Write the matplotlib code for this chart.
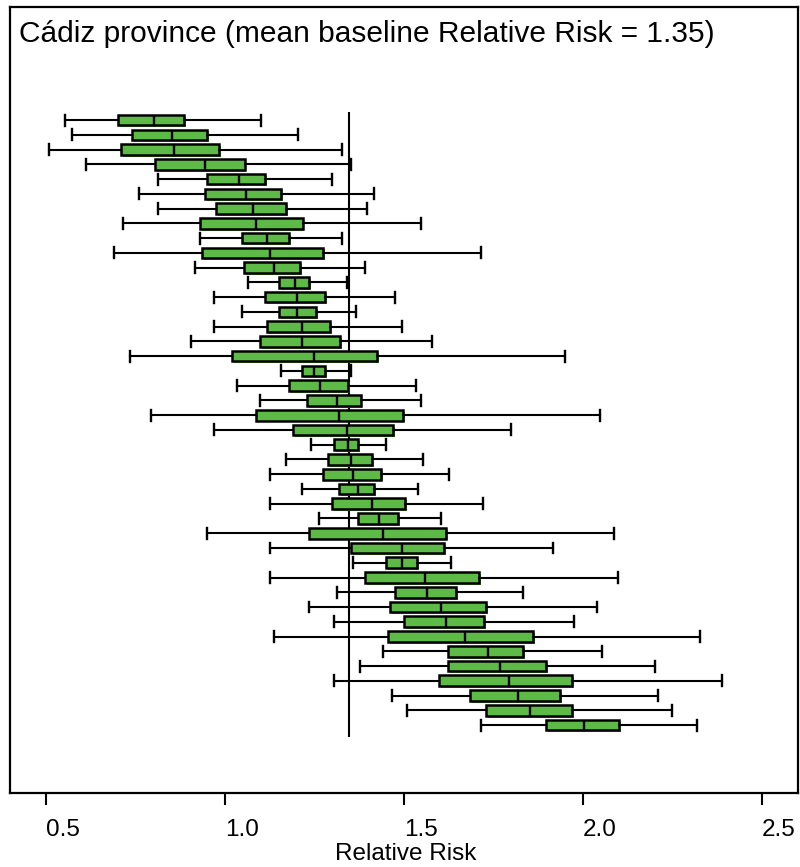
import matplotlib
matplotlib.use("Agg")
import matplotlib.pyplot as plt
import matplotlib.patheffects as pe

plt.rcParams['font.family'] = ['Liberation Sans', 'DejaVu Sans']

# five-number summaries per municipality (top to bottom)
whis_lo = [0.553, 0.572, 0.508, 0.612, 0.812, 0.760, 0.812, 0.715, 0.929, 0.689,
           0.916, 1.065, 0.968, 1.046, 0.968, 0.904, 0.734, 1.156, 1.033, 1.098,
           0.793, 0.968, 1.241, 1.169, 1.124, 1.214, 1.124, 1.261, 0.949, 1.124,
           1.357, 1.124, 1.313, 1.235, 1.305, 1.136, 1.442, 1.376, 1.305, 1.467,
           1.508, 1.714]
q1 = [0.701, 0.740, 0.708, 0.805, 0.948, 0.943, 0.974, 0.929, 1.046, 0.935,
      1.052, 1.151, 1.111, 1.151, 1.117, 1.098, 1.020, 1.215, 1.177, 1.228,
      1.085, 1.189, 1.305, 1.286, 1.272, 1.318, 1.299, 1.370, 1.235, 1.352,
      1.448, 1.391, 1.474, 1.461, 1.500, 1.455, 1.623, 1.623, 1.598, 1.683,
      1.728, 1.897]
med = [0.800, 0.851, 0.858, 0.943, 1.039, 1.059, 1.079, 1.086, 1.117, 1.124,
       1.137, 1.195, 1.201, 1.201, 1.215, 1.215, 1.247, 1.247, 1.266, 1.312,
       1.319, 1.339, 1.344, 1.351, 1.357, 1.371, 1.409, 1.429, 1.442, 1.495,
       1.495, 1.559, 1.565, 1.604, 1.617, 1.669, 1.733, 1.767, 1.792, 1.819,
       1.852, 2.002]
q3 = [0.885, 0.950, 0.982, 1.054, 1.112, 1.157, 1.169, 1.216, 1.177, 1.274,
      1.209, 1.235, 1.280, 1.255, 1.294, 1.320, 1.424, 1.279, 1.344, 1.378,
      1.496, 1.470, 1.371, 1.410, 1.436, 1.417, 1.501, 1.482, 1.618, 1.612,
      1.535, 1.709, 1.644, 1.729, 1.723, 1.860, 1.833, 1.897, 1.970, 1.936,
      1.970, 2.100]
whis_hi = [1.099, 1.202, 1.325, 1.352, 1.299, 1.416, 1.396, 1.547, 1.325, 1.715,
           1.390, 1.339, 1.474, 1.364, 1.494, 1.578, 1.948, 1.351, 1.533, 1.546,
           2.046, 1.799, 1.449, 1.553, 1.625, 1.539, 1.721, 1.604, 2.085, 1.916,
           1.631, 2.098, 1.832, 2.039, 1.975, 2.325, 2.052, 2.201, 2.389, 2.208,
           2.248, 2.318]
baseline = 1.345

green = '#5dba47'

stats = []
for i in range(len(med)):
    stats.append(dict(whislo=whis_lo[i], q1=q1[i], med=med[i], q3=q3[i],
                      whishi=whis_hi[i], fliers=[]))
pos = list(range(1, len(stats) + 1))

fig = plt.figure(figsize=(8, 8.67), dpi=100)
ax = fig.add_axes([0.013, 0.0854, 0.9845, 0.9065])

ax.vlines(baseline, 0.44, 42.8, color='black', lw=1.5, zorder=1)

bp = ax.bxp(stats, positions=pos, widths=0.72, capwidths=0.74,
            orientation='horizontal', patch_artist=True, showfliers=False,
            boxprops=dict(facecolor=green, edgecolor='black', linewidth=1.8),
            medianprops=dict(color='black', linewidth=1.7),
            whiskerprops=dict(color='black', linewidth=1.5),
            capprops=dict(color='black', linewidth=1.7),
            zorder=3)
for b in bp['boxes']:
    b.set_path_effects([pe.SimplePatchShadow(offset=(1.4, -1.4), shadow_rgbFace=green, alpha=1.0),
                        pe.Normal()])

ax.set_xlim(0.4, 2.6)
ax.set_ylim(46.6, -6.66)
ax.set_yticks([])
ax.set_xticks([0.5, 1.0, 1.5, 2.0, 2.5])
ax.set_xticklabels(['0.5', '1.0', '1.5', '2.0', '2.5'], ha='left', fontsize=17.5)
ax.tick_params(axis='x', length=8.5, width=1.5, pad=10)
for s in ax.spines.values():
    s.set_linewidth(1.6)

ax.set_xlabel('Relative Risk', fontsize=17.5, labelpad=0)
ax.xaxis.set_label_coords(0.502, -0.064)

ax.text(0.011, 0.956, 'Cádiz province (mean baseline Relative Risk = 1.35)',
        transform=ax.transAxes, fontsize=21.5, ha='left', va='baseline')

fig.savefig('out.png', dpi=100)
